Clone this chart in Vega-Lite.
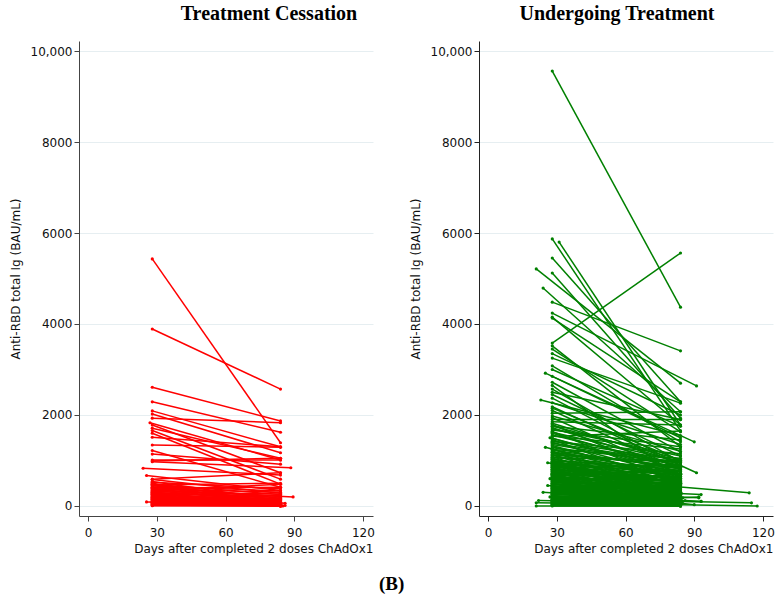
{
"$schema":"https://vega.github.io/schema/vega-lite/v6.json",
"padding":{"left":9,"top":4,"right":5,"bottom":5},
"config":{"view":{"stroke":null},"font":"DejaVu Sans"},
"title":{"text":"(B)","orient":"bottom","font":"Liberation Serif","fontSize":19,"fontWeight":"bold","color":"#000","anchor":"middle","offset":21},
"spacing":34,
"datasets":{
"c":[
{"d0":28,"v0":5430,"d1":84,"v1":1390},
{"d0":28,"v0":3890,"d1":84,"v1":2570},
{"d0":28,"v0":2610,"d1":84,"v1":1870},
{"d0":28,"v0":2290,"d1":84,"v1":1620},
{"d0":28,"v0":2090,"d1":84,"v1":1300},
{"d0":28,"v0":2020,"d1":84,"v1":1170},
{"d0":28,"v0":1930,"d1":84,"v1":1830},
{"d0":27,"v0":1830,"d1":84,"v1":1010},
{"d0":28,"v0":1780,"d1":84,"v1":730},
{"d0":28,"v0":1710,"d1":84,"v1":1050},
{"d0":28,"v0":1660,"d1":84,"v1":590},
{"d0":28,"v0":1600,"d1":84,"v1":480},
{"d0":28,"v0":1510,"d1":84,"v1":1300},
{"d0":28,"v0":1340,"d1":84,"v1":1290},
{"d0":28,"v0":1220,"d1":84,"v1":410},
{"d0":28,"v0":1140,"d1":84,"v1":920},
{"d0":28,"v0":1010,"d1":84,"v1":1010},
{"d0":28,"v0":990,"d1":84,"v1":1050},
{"d0":28,"v0":975,"d1":88.5,"v1":840},
{"d0":24,"v0":830,"d1":84,"v1":680},
{"d0":25.5,"v0":670,"d1":84,"v1":340},
{"d0":28,"v0":590,"d1":84,"v1":730},
{"d0":28,"v0":580,"d1":84,"v1":280},
{"d0":28,"v0":540,"d1":84,"v1":120},
{"d0":28,"v0":520,"d1":84,"v1":380},
{"d0":28,"v0":500,"d1":84,"v1":60},
{"d0":28,"v0":480,"d1":84,"v1":250},
{"d0":28,"v0":470,"d1":84,"v1":20},
{"d0":28,"v0":460,"d1":84,"v1":500},
{"d0":28,"v0":450,"d1":84,"v1":170},
{"d0":28,"v0":440,"d1":84,"v1":330},
{"d0":28,"v0":420,"d1":84,"v1":90},
{"d0":28,"v0":410,"d1":84,"v1":210},
{"d0":28,"v0":400,"d1":84,"v1":410},
{"d0":28,"v0":390,"d1":84,"v1":40},
{"d0":28,"v0":380,"d1":84,"v1":300},
{"d0":28,"v0":360,"d1":84,"v1":150},
{"d0":28,"v0":350,"d1":89.5,"v1":200},
{"d0":28,"v0":340,"d1":84,"v1":80},
{"d0":28,"v0":330,"d1":84,"v1":480},
{"d0":28,"v0":320,"d1":84,"v1":260},
{"d0":28,"v0":310,"d1":84,"v1":10},
{"d0":28,"v0":300,"d1":84,"v1":130},
{"d0":28,"v0":290,"d1":84,"v1":190},
{"d0":28,"v0":280,"d1":86,"v1":60},
{"d0":28,"v0":270,"d1":84,"v1":50},
{"d0":28,"v0":260,"d1":84,"v1":230},
{"d0":28,"v0":250,"d1":84,"v1":110},
{"d0":28,"v0":240,"d1":84,"v1":0},
{"d0":28,"v0":230,"d1":84,"v1":160},
{"d0":28,"v0":220,"d1":84,"v1":70},
{"d0":28,"v0":210,"d1":86,"v1":10},
{"d0":28,"v0":200,"d1":84,"v1":140},
{"d0":28,"v0":190,"d1":84,"v1":30},
{"d0":28,"v0":180,"d1":84,"v1":100},
{"d0":28,"v0":170,"d1":84,"v1":60},
{"d0":28,"v0":160,"d1":84,"v1":20},
{"d0":28,"v0":150,"d1":84,"v1":120},
{"d0":28,"v0":140,"d1":84,"v1":40},
{"d0":28,"v0":130,"d1":84,"v1":80},
{"d0":28,"v0":120,"d1":84,"v1":10},
{"d0":28,"v0":110,"d1":84,"v1":50},
{"d0":28,"v0":100,"d1":84,"v1":30},
{"d0":28,"v0":90,"d1":84,"v1":0},
{"d0":25.5,"v0":90,"d1":84,"v1":60},
{"d0":28,"v0":80,"d1":84,"v1":20},
{"d0":28,"v0":70,"d1":84,"v1":40},
{"d0":28,"v0":60,"d1":84,"v1":10},
{"d0":28,"v0":50,"d1":84,"v1":0},
{"d0":28,"v0":40,"d1":84,"v1":20},
{"d0":28,"v0":30,"d1":84,"v1":10},
{"d0":28,"v0":20,"d1":84,"v1":0},
{"d0":28,"v0":10,"d1":85,"v1":0},
{"d0":28,"v0":5,"d1":84,"v1":5}
],
"t":[
{"d0":28,"v0":9560,"d1":84,"v1":4370},
{"d0":28,"v0":3580,"d1":84,"v1":5560},
{"d0":28,"v0":5870,"d1":84,"v1":1650},
{"d0":31,"v0":5800,"d1":84,"v1":1780},
{"d0":28,"v0":5450,"d1":84,"v1":2290},
{"d0":21,"v0":5210,"d1":84,"v1":2700},
{"d0":28,"v0":5120,"d1":84,"v1":1930},
{"d0":24,"v0":4790,"d1":84,"v1":2070},
{"d0":28,"v0":4480,"d1":84,"v1":3410},
{"d0":28,"v0":4240,"d1":91,"v1":2640},
{"d0":28,"v0":4150,"d1":84,"v1":1780},
{"d0":28,"v0":4130,"d1":84,"v1":2290},
{"d0":28,"v0":3520,"d1":84,"v1":1300},
{"d0":28,"v0":3450,"d1":84,"v1":1630},
{"d0":28,"v0":3350,"d1":84,"v1":2000},
{"d0":28,"v0":3250,"d1":84,"v1":2260},
{"d0":28,"v0":3080,"d1":84,"v1":1410},
{"d0":28,"v0":3000,"d1":84,"v1":1750},
{"d0":25,"v0":2920,"d1":90,"v1":1410},
{"d0":28,"v0":2850,"d1":84,"v1":1500},
{"d0":28,"v0":2720,"d1":84,"v1":1190},
{"d0":28,"v0":2650,"d1":84,"v1":600},
{"d0":28,"v0":2570,"d1":84,"v1":970},
{"d0":28,"v0":2500,"d1":84,"v1":1900},
{"d0":28,"v0":2450,"d1":84,"v1":1100},
{"d0":28,"v0":2370,"d1":84,"v1":900},
{"d0":23,"v0":2330,"d1":84,"v1":1550},
{"d0":28,"v0":2270,"d1":84,"v1":1350},
{"d0":28,"v0":2180,"d1":91,"v1":730},
{"d0":28,"v0":2150,"d1":84,"v1":1000},
{"d0":28,"v0":2100,"d1":84,"v1":800},
{"d0":28,"v0":2040,"d1":84,"v1":2070},
{"d0":28,"v0":1980,"d1":84,"v1":1200},
{"d0":28,"v0":1940,"d1":84,"v1":700},
{"d0":28,"v0":1900,"d1":84,"v1":1900},
{"d0":28,"v0":1850,"d1":84,"v1":1780},
{"d0":28,"v0":1820,"d1":84,"v1":950},
{"d0":28,"v0":1790,"d1":84,"v1":600},
{"d0":28,"v0":1760,"d1":84,"v1":1020},
{"d0":28,"v0":1750,"d1":84,"v1":1450},
{"d0":28,"v0":1720,"d1":84,"v1":850},
{"d0":28,"v0":1690,"d1":84,"v1":1100},
{"d0":28,"v0":1670,"d1":84,"v1":1300},
{"d0":28,"v0":1640,"d1":84,"v1":500},
{"d0":28,"v0":1620,"d1":84,"v1":980},
{"d0":28,"v0":1600,"d1":84,"v1":800},
{"d0":28,"v0":1560,"d1":84,"v1":880},
{"d0":28,"v0":1540,"d1":84,"v1":1250},
{"d0":28,"v0":1530,"d1":84,"v1":1650},
{"d0":27,"v0":1500,"d1":84,"v1":700},
{"d0":28,"v0":1490,"d1":84,"v1":750},
{"d0":28,"v0":1460,"d1":84,"v1":400},
{"d0":28,"v0":1430,"d1":84,"v1":1000},
{"d0":28,"v0":1420,"d1":84,"v1":1150},
{"d0":28,"v0":1400,"d1":84,"v1":650},
{"d0":28,"v0":1380,"d1":84,"v1":950},
{"d0":28,"v0":1350,"d1":84,"v1":900},
{"d0":28,"v0":1330,"d1":84,"v1":550},
{"d0":28,"v0":1300,"d1":84,"v1":600},
{"d0":25,"v0":1290,"d1":84,"v1":500},
{"d0":28,"v0":1280,"d1":84,"v1":950},
{"d0":28,"v0":1250,"d1":84,"v1":300},
{"d0":28,"v0":1240,"d1":84,"v1":1050},
{"d0":28,"v0":1230,"d1":84,"v1":820},
{"d0":28,"v0":1210,"d1":84,"v1":150},
{"d0":28,"v0":1190,"d1":84,"v1":700},
{"d0":28,"v0":1180,"d1":84,"v1":850},
{"d0":28,"v0":1170,"d1":84,"v1":450},
{"d0":28,"v0":1150,"d1":84,"v1":880},
{"d0":28,"v0":1130,"d1":84,"v1":250},
{"d0":28,"v0":1120,"d1":84,"v1":950},
{"d0":28,"v0":1110,"d1":84,"v1":620},
{"d0":28,"v0":1090,"d1":84,"v1":90},
{"d0":28,"v0":1070,"d1":84,"v1":780},
{"d0":28,"v0":1060,"d1":84,"v1":1000},
{"d0":28,"v0":1050,"d1":84,"v1":380},
{"d0":28,"v0":1030,"d1":84,"v1":540},
{"d0":28,"v0":1020,"d1":84,"v1":720},
{"d0":28,"v0":1010,"d1":84,"v1":200},
{"d0":28,"v0":990,"d1":84,"v1":860},
{"d0":28,"v0":985,"d1":84,"v1":560},
{"d0":28,"v0":975,"d1":84,"v1":320},
{"d0":28,"v0":960,"d1":84,"v1":680},
{"d0":28,"v0":955,"d1":84,"v1":240},
{"d0":26,"v0":950,"d1":84,"v1":400},
{"d0":28,"v0":940,"d1":84,"v1":50},
{"d0":28,"v0":930,"d1":84,"v1":840},
{"d0":28,"v0":925,"d1":84,"v1":500},
{"d0":28,"v0":910,"d1":84,"v1":760},
{"d0":28,"v0":905,"d1":84,"v1":380},
{"d0":28,"v0":895,"d1":84,"v1":160},
{"d0":28,"v0":880,"d1":84,"v1":420},
{"d0":28,"v0":870,"d1":84,"v1":680},
{"d0":28,"v0":865,"d1":84,"v1":600},
{"d0":28,"v0":850,"d1":84,"v1":280},
{"d0":28,"v0":845,"d1":84,"v1":200},
{"d0":28,"v0":835,"d1":84,"v1":900},
{"d0":28,"v0":820,"d1":84,"v1":110},
{"d0":28,"v0":810,"d1":84,"v1":610},
{"d0":28,"v0":805,"d1":84,"v1":530},
{"d0":28,"v0":790,"d1":84,"v1":350},
{"d0":28,"v0":780,"d1":84,"v1":90},
{"d0":28,"v0":775,"d1":84,"v1":720},
{"d0":28,"v0":760,"d1":84,"v1":20},
{"d0":28,"v0":755,"d1":84,"v1":510},
{"d0":28,"v0":745,"d1":84,"v1":460},
{"d0":28,"v0":730,"d1":84,"v1":240},
{"d0":28,"v0":720,"d1":84,"v1":330},
{"d0":28,"v0":715,"d1":84,"v1":640},
{"d0":28,"v0":700,"d1":84,"v1":130},
{"d0":28,"v0":695,"d1":84,"v1":770},
{"d0":28,"v0":690,"d1":84,"v1":560},
{"d0":28,"v0":675,"d1":84,"v1":300},
{"d0":28,"v0":665,"d1":84,"v1":150},
{"d0":28,"v0":660,"d1":84,"v1":820},
{"d0":28,"v0":645,"d1":84,"v1":70},
{"d0":28,"v0":640,"d1":84,"v1":490},
{"d0":28,"v0":630,"d1":84,"v1":400},
{"d0":28,"v0":615,"d1":84,"v1":190},
{"d0":28,"v0":610,"d1":84,"v1":270},
{"d0":28,"v0":600,"d1":84,"v1":580},
{"d0":27,"v0":600,"d1":84,"v1":200},
{"d0":28,"v0":590,"d1":84,"v1":10},
{"d0":28,"v0":585,"d1":84,"v1":650},
{"d0":28,"v0":575,"d1":84,"v1":350},
{"d0":28,"v0":560,"d1":84,"v1":260},
{"d0":28,"v0":555,"d1":84,"v1":40},
{"d0":28,"v0":545,"d1":84,"v1":700},
{"d0":28,"v0":530,"d1":84,"v1":140},
{"d0":28,"v0":525,"d1":84,"v1":420},
{"d0":28,"v0":515,"d1":84,"v1":470},
{"d0":28,"v0":500,"d1":84,"v1":60},
{"d0":28,"v0":495,"d1":84,"v1":180},
{"d0":28,"v0":490,"d1":84,"v1":310},
{"d0":28,"v0":475,"d1":84,"v1":220},
{"d0":28,"v0":470,"d1":84,"v1":600},
{"d0":28,"v0":460,"d1":84,"v1":540},
{"d0":26,"v0":450,"d1":84,"v1":150},
{"d0":28,"v0":445,"d1":84,"v1":100},
{"d0":28,"v0":440,"d1":84,"v1":260},
{"d0":28,"v0":430,"d1":84,"v1":380},
{"d0":28,"v0":420,"d1":84,"v1":30},
{"d0":28,"v0":415,"d1":84,"v1":520},
{"d0":28,"v0":405,"d1":84,"v1":250},
{"d0":28,"v0":400,"d1":93,"v1":250},
{"d0":28,"v0":390,"d1":84,"v1":170},
{"d0":28,"v0":385,"d1":84,"v1":120},
{"d0":28,"v0":380,"d1":84,"v1":450},
{"d0":28,"v0":365,"d1":84,"v1":80},
{"d0":28,"v0":355,"d1":84,"v1":400},
{"d0":28,"v0":350,"d1":84,"v1":290},
{"d0":28,"v0":340,"d1":84,"v1":140},
{"d0":28,"v0":330,"d1":84,"v1":230},
{"d0":28,"v0":325,"d1":84,"v1":20},
{"d0":28,"v0":310,"d1":84,"v1":210},
{"d0":28,"v0":305,"d1":84,"v1":480},
{"d0":28,"v0":300,"d1":92,"v1":180},
{"d0":24,"v0":300,"d1":84,"v1":100},
{"d0":28,"v0":295,"d1":84,"v1":360},
{"d0":28,"v0":285,"d1":84,"v1":60},
{"d0":28,"v0":275,"d1":84,"v1":90},
{"d0":28,"v0":270,"d1":84,"v1":180},
{"d0":28,"v0":260,"d1":84,"v1":110},
{"d0":28,"v0":250,"d1":84,"v1":350},
{"d0":28,"v0":245,"d1":84,"v1":300},
{"d0":28,"v0":230,"d1":84,"v1":40},
{"d0":28,"v0":220,"d1":84,"v1":150},
{"d0":28,"v0":215,"d1":84,"v1":200},
{"d0":28,"v0":205,"d1":84,"v1":90},
{"d0":27,"v0":200,"d1":84,"v1":50},
{"d0":28,"v0":190,"d1":84,"v1":230},
{"d0":28,"v0":185,"d1":84,"v1":420},
{"d0":28,"v0":180,"d1":84,"v1":10},
{"d0":28,"v0":165,"d1":84,"v1":120},
{"d0":28,"v0":160,"d1":84,"v1":260},
{"d0":28,"v0":150,"d1":93,"v1":100},
{"d0":28,"v0":145,"d1":84,"v1":70},
{"d0":28,"v0":140,"d1":84,"v1":190},
{"d0":28,"v0":130,"d1":84,"v1":330},
{"d0":28,"v0":125,"d1":84,"v1":30},
{"d0":22,"v0":120,"d1":84,"v1":60},
{"d0":28,"v0":110,"d1":84,"v1":100},
{"d0":28,"v0":105,"d1":84,"v1":200},
{"d0":28,"v0":100,"d1":84,"v1":50},
{"d0":28,"v0":90,"d1":84,"v1":0},
{"d0":28,"v0":80,"d1":84,"v1":140},
{"d0":28,"v0":75,"d1":84,"v1":250},
{"d0":21,"v0":70,"d1":84,"v1":30},
{"d0":28,"v0":70,"d1":84,"v1":20},
{"d0":28,"v0":60,"d1":84,"v1":80},
{"d0":28,"v0":50,"d1":84,"v1":10},
{"d0":28,"v0":45,"d1":84,"v1":170},
{"d0":28,"v0":40,"d1":84,"v1":40},
{"d0":28,"v0":30,"d1":84,"v1":0},
{"d0":28,"v0":20,"d1":84,"v1":60},
{"d0":28,"v0":15,"d1":84,"v1":300},
{"d0":28,"v0":10,"d1":84,"v1":10},
{"d0":21,"v0":0,"d1":84,"v1":0},
{"d0":28,"v0":0,"d1":84,"v1":0},
{"d0":84,"v0":420,"d1":114,"v1":290},
{"d0":85,"v0":100,"d1":115,"v1":70},
{"d0":84,"v0":30,"d1":117.5,"v1":0},
{"d0":85,"v0":180,"d1":92,"v1":200},
{"d0":86,"v0":120,"d1":93,"v1":100},
{"d0":84,"v0":60,"d1":90,"v1":30}
]
},
"hconcat":[
{
"width":294,"height":475,
"title":{"text":"Treatment Cessation","font":"Liberation Serif","fontSize":20,"fontWeight":"bold","color":"#000","dx":43,"offset":17},
"data":{"name":"c"},
"encoding":{
"x":{"field":"d0","type":"quantitative","scale":{"domain":[-4,124.4],"nice":false,"zero":false},
"axis":{"values":[0,30,60,90,120],"grid":false,"title":"Days after completed 2 doses ChAdOx1","titleAnchor":"end","titleFontWeight":"normal","titleFontSize":12,"labelFontSize":12,"tickSize":5,"labelPadding":6,"titlePadding":5,"domainColor":"#444","tickColor":"#444","labelColor":"#111","titleColor":"#111"}},
"y":{"field":"v0","type":"quantitative","scale":{"domain":[-220,10220],"nice":false,"zero":false},
"axis":{"values":[0,2000,4000,6000,8000,10000],"labelExpr":"datum.value == 10000 ? '10,000' : '' + datum.value","grid":true,"gridColor":"#e6eef1","title":"Anti-RBD total Ig (BAU/mL)","titleFontWeight":"normal","titleFontSize":12,"labelFontSize":12,"tickSize":5,"labelPadding":2,"titlePadding":8,"domainColor":"#444","tickColor":"#444","labelColor":"#111","titleColor":"#111"}}
},
"layer":[
{"mark":{"type":"rule","color":"#ff0000","strokeWidth":1.5},"encoding":{"x2":{"field":"d1"},"y2":{"field":"v1"}}},
{"mark":{"type":"circle","color":"#ff0000","size":10,"opacity":1}},
{"mark":{"type":"circle","color":"#ff0000","size":10,"opacity":1},"encoding":{"x":{"field":"d1","type":"quantitative"},"y":{"field":"v1","type":"quantitative"}}}
]
},
{
"width":294,"height":475,
"title":{"text":"Undergoing Treatment","font":"Liberation Serif","fontSize":20,"fontWeight":"bold","color":"#000","dx":-9,"offset":17},
"data":{"name":"t"},
"encoding":{
"x":{"field":"d0","type":"quantitative","scale":{"domain":[-4,124.4],"nice":false,"zero":false},
"axis":{"values":[0,30,60,90,120],"grid":false,"title":"Days after completed 2 doses ChAdOx1","titleAnchor":"end","titleFontWeight":"normal","titleFontSize":12,"labelFontSize":12,"tickSize":5,"labelPadding":6,"titlePadding":5,"domainColor":"#222","tickColor":"#222","labelColor":"#111","titleColor":"#111"}},
"y":{"field":"v0","type":"quantitative","scale":{"domain":[-220,10220],"nice":false,"zero":false},
"axis":{"values":[0,2000,4000,6000,8000,10000],"labelExpr":"datum.value == 10000 ? '10,000' : '' + datum.value","grid":true,"gridColor":"#e6eef1","title":"Anti-RBD total Ig (BAU/mL)","titleFontWeight":"normal","titleFontSize":12,"labelFontSize":12,"tickSize":5,"labelPadding":2,"titlePadding":8,"domainColor":"#222","tickColor":"#222","labelColor":"#111","titleColor":"#111"}}
},
"layer":[
{"mark":{"type":"rule","color":"#008000","strokeWidth":1.5},"encoding":{"x2":{"field":"d1"},"y2":{"field":"v1"}}},
{"mark":{"type":"circle","color":"#008000","size":10,"opacity":1}},
{"mark":{"type":"circle","color":"#008000","size":10,"opacity":1},"encoding":{"x":{"field":"d1","type":"quantitative"},"y":{"field":"v1","type":"quantitative"}}}
]
}
]
}
